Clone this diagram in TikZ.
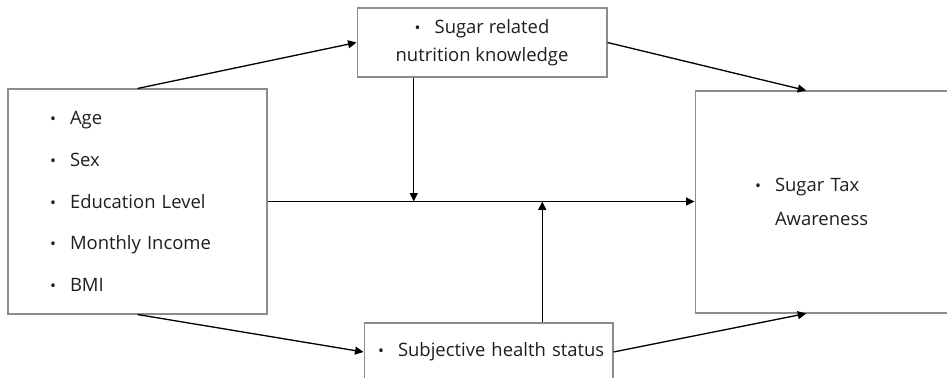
\documentclass[tikz,border=0pt]{standalone}
\usepackage{fontspec}
\setmainfont{Open Sans}
\usepackage{tikz}
\usetikzlibrary{arrows.meta,calc}
\definecolor{boxgray}{RGB}{140,140,140}
\definecolor{txtgray}{RGB}{30,30,30}
\newcommand{\itm}{\makebox[0.4cm][l]{\small\textbullet}}

\begin{document}
\begin{tikzpicture}[x=0.02cm,y=-0.02cm,
  box/.style={draw=boxgray, line width=0.6pt, rectangle, text=txtgray, inner sep=0pt},
  arr/.style={-{Triangle[length=1.7mm,width=1.6mm]}, line width=0.75pt}]
\useasboundingbox (0,0) rectangle (947,378);
\clip (0,0) rectangle (947,378);

\node[box, minimum width=5.18cm, minimum height=4.5cm, text width=3.5cm, align=left,
  font=\fontsize{10.5}{23.8}\selectfont] (demo) at (137.5,201.5)
  {\itm Age\\ \itm Sex\\ \itm Education Level\\ \itm Monthly Income\\ \itm BMI};
\node[box, minimum width=5cm, minimum height=1.38cm, align=center,
  font=\fontsize{10.5}{15.9}\selectfont] (know) at (482,42.5)
  {\itm Sugar related\\nutrition knowledge};
\node[box, minimum width=4.98cm, minimum height=1.16cm, text width=4.42cm, align=left,
  font=\fontsize{10.5}{15.9}\selectfont] (health) at (488.5,352)
  {\mbox{\itm Subjective health status}};
\node[box, minimum width=5.3cm, minimum height=4.44cm, text width=2.9cm, align=left,
  font=\fontsize{10.5}{19.8}\selectfont] (aware) at (827.5,202)
  {\itm Sugar Tax\\ \hspace*{0.4cm}Awareness};

\coordinate (kd) at ($(know.south west)!0.228!(know.south east)$);
\coordinate (hu) at ($(health.north west)!0.715!(health.north east)$);
\coordinate (at) at ($(aware.north west)!0.42!(aware.north east)$);
\coordinate (ab) at ($(aware.south west)!0.42!(aware.south east)$);

\draw[arr] (demo.north) -- (know.west);
\draw[arr] (know.east) -- (at);
\draw[arr] (demo.east) -- (demo.east -| aware.west);
\draw[arr] (kd) -- (kd |- demo.east);
\draw[arr] (hu) -- (hu |- demo.east);
\draw[arr] (demo.south) -- (health.west);
\draw[arr] (health.east) -- (ab);
\end{tikzpicture}
\end{document}
